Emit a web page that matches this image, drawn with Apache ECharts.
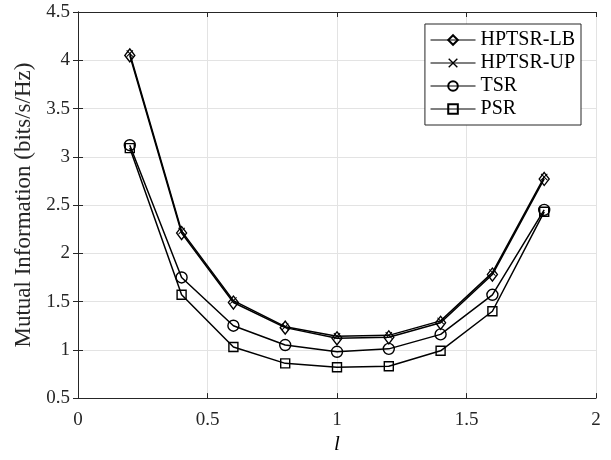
<!DOCTYPE html>
<html lang="en">
<head>
    <meta charset="UTF-8">
    <title>mutual information</title>
    <script src="https://cdn.jsdelivr.net/npm/echarts@6/dist/echarts.min.js"></script>
    <style>
        body { margin: 0; background: #fff; }
        #chart_line { width: 611px; height: 460px; }
    </style>
</head>
<body>
<div id="chart_line"></div>
<script>
    var lValues = [0.2, 0.4, 0.6, 0.8, 1.0, 1.2, 1.4, 1.6, 1.8];
    var hptsrLB = [4.05, 2.21, 1.49, 1.23, 1.12, 1.13, 1.28, 1.78, 2.77];
    var hptsrUP = [4.07, 2.23, 1.51, 1.24, 1.14, 1.15, 1.30, 1.80, 2.79];
    var tsr = [3.12, 1.75, 1.25, 1.05, 0.98, 1.01, 1.16, 1.57, 2.45];
    var psr = [3.09, 1.57, 1.03, 0.86, 0.82, 0.83, 0.99, 1.40, 2.43];
    var seriesNames = ['HPTSR-LB', 'HPTSR-UP', 'TSR', 'PSR'];

    function pairs(ys) {
        var out = [];
        for (var i = 0; i < lValues.length; i++) {
            out.push([lValues[i], ys[i]]);
        }
        return out;
    }

    var crossPath = 'path://M0,1L1,0L5,4L9,0L10,1L6,5L10,9L9,10L5,6L1,10L0,9L4,5Z';
    var font = 'Liberation Serif';
    var openMarker = { color: 'rgba(255,255,255,0)', borderColor: '#000', borderWidth: 1.4 };

    function mkSeries(name, ys, symbol, size, itemStyle) {
        return {
            name: name,
            type: 'line',
            data: pairs(ys),
            symbol: symbol,
            symbolSize: size,
            showAllSymbol: true,
            lineStyle: { color: '#000', width: 1.5 },
            itemStyle: itemStyle,
            emphasis: { disabled: true },
            z: 3
        };
    }

    var axisLine = { show: true, lineStyle: { color: '#262626', width: 1 } };
    var tickIn = { show: true, inside: true, length: 5, lineStyle: { color: '#262626' } };

    var option = {
        animation: false,
        backgroundColor: '#fff',
        grid: { left: 78, right: 15, top: 12, bottom: 61 },
        legend: {
            data: seriesNames,
            orient: 'vertical',
            right: 30,
            top: 24,
            itemWidth: 45,
            itemHeight: 12,
            itemGap: 3,
            padding: [6, 6, 6, 5],
            backgroundColor: '#fff',
            borderColor: '#262626',
            borderWidth: 1,
            borderRadius: 0,
            lineStyle: { width: 1.2 },
            textStyle: { fontFamily: font, fontSize: 20, lineHeight: 20, color: '#000' }
        },
        xAxis: [{
            type: 'value',
            min: 0, max: 2, interval: 0.5,
            name: 'l',
            nameLocation: 'middle',
            nameGap: 33,
            nameTextStyle: { fontFamily: font, fontSize: 21, fontStyle: 'italic', color: '#000' },
            axisLine: axisLine,
            axisTick: tickIn,
            axisLabel: { fontFamily: font, fontSize: 19, color: '#262626', margin: 12 },
            splitLine: { show: true, lineStyle: { color: '#e3e3e3', width: 1 } }
        }, {
            type: 'value', position: 'top',
            min: 0, max: 2, interval: 0.5,
            axisLine: axisLine, axisTick: tickIn,
            axisLabel: { show: false }, splitLine: { show: false }
        }],
        yAxis: [{
            type: 'value',
            min: 0.5, max: 4.5, interval: 0.5,
            name: 'Mutual Information (bits/s/Hz)',
            nameLocation: 'middle',
            nameGap: 43,
            nameTextStyle: { fontFamily: font, fontSize: 23, color: '#262626' },
            axisLine: axisLine,
            axisTick: tickIn,
            axisLabel: { fontFamily: font, fontSize: 19, color: '#262626', margin: 8 },
            splitLine: { show: true, lineStyle: { color: '#e3e3e3', width: 1 } }
        }, {
            type: 'value', position: 'right',
            min: 0.5, max: 4.5, interval: 0.5,
            axisLine: axisLine, axisTick: tickIn,
            axisLabel: { show: false }, splitLine: { show: false }
        }],
        series: [
            mkSeries('HPTSR-LB', hptsrLB, 'diamond', [10, 13], openMarker),
            mkSeries('HPTSR-UP', hptsrUP, crossPath, 7, { color: '#000', borderWidth: 0 }),
            mkSeries('TSR', tsr, 'circle', 11, openMarker),
            mkSeries('PSR', psr, 'rect', 9, openMarker)
        ]
    };

    var chart_line = echarts.init(document.getElementById('chart_line'));
    chart_line.setOption(option);
</script>
</body>
</html>
